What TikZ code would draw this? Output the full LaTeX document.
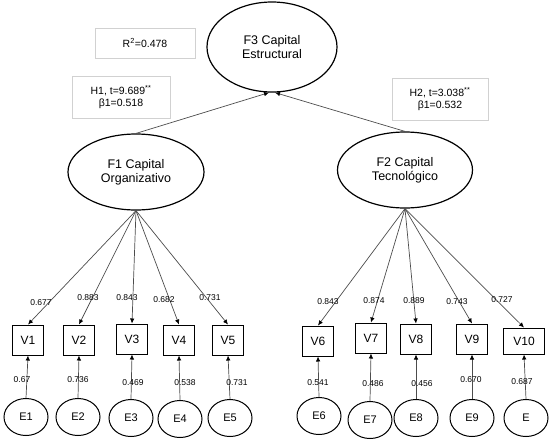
\documentclass[tikz,border=0pt]{standalone}
\usepackage{fontspec}
\setmainfont{Liberation Sans}
\usetikzlibrary{arrows.meta, positioning, shapes.geometric}
\definecolor{cline}{gray}{0.3}
\definecolor{cframe}{gray}{0.82}

\begin{document}
\begin{tikzpicture}[
    x=1pt, y=-1pt,
    factor/.style={draw, ellipse, line width=1.2pt, minimum width=#1, minimum height=76pt, align=center, font=\fontsize{12.5}{14}\selectfont, inner sep=0pt},
    factor/.default=136pt,
    item/.style={draw, line width=1pt, minimum width=31pt, minimum height=30pt, font=\fontsize{12}{14}\selectfont, inner sep=0pt},
    err/.style={draw, ellipse, line width=1pt, minimum width=44pt, minimum height=37pt, font=\fontsize{11}{13}\selectfont, inner sep=0pt},
    note/.style={draw=cframe, line width=0.8pt, align=center, font=\fontsize{10.5}{12.5}\selectfont, inner sep=0pt},
    val/.style={font=\fontsize{8.5}{10}\selectfont, inner sep=0.5pt},
    arrow/.style={-{Latex[length=5pt, width=4.5pt, black]}, cline, line width=0.7pt}
]
\useasboundingbox (0,0) rectangle (554,445);

% latent factors
\node[factor=130pt, minimum height=90pt] (F3) at (272,47) {F3 Capital\\Estructural};
\node[factor] (F1) at (136,172) {F1 Capital\\Organizativo};
\node[factor=135pt] (F2) at (405,170) {F2 Capital\\Tecnológico};

% notes
\node[note, minimum width=100pt, minimum height=30pt] (r2) at (145,43) {R\textsuperscript{2}=0.478};
\node[note, minimum width=98pt, minimum height=42pt] (h1) at (121,97) {H1, t=9.689\textsuperscript{**}\\β1=0.518};
\node[note, minimum width=96pt, minimum height=42pt] (h2) at (440,99) {H2, t=3.038\textsuperscript{**}\\β1=0.532};

% indicators
\node[item] (V1) at (28,340) {V1};
\node[item] (V2) at (79,340) {V2};
\node[item] (V3) at (132,339) {V3};
\node[item] (V4) at (179,340) {V4};
\node[item] (V5) at (228,340) {V5};
\node[item] (V6) at (318,341) {V6};
\node[item] (V7) at (371,338) {V7};
\node[item] (V8) at (416,339) {V8};
\node[item] (V9) at (472,339) {V9};
\node[item, minimum width=41pt, minimum height=26pt] (V10) at (524,341) {V10};

% errors
\node[err] (E1) at (26,417) {E1};
\node[err] (E2) at (78,417) {E2};
\node[err] (E3) at (131,418) {E3};
\node[err] (E4) at (180,419) {E4};
\node[err] (E5) at (230,418) {E5};
\node[err] (E6) at (319,416) {E6};
\node[err] (E7) at (370,420) {E7};
\node[err] (E8) at (416,418) {E8};
\node[err] (E9) at (472,418) {E9};
\node[err] (E10) at (526,418) {E};

% structural paths
\draw[arrow] (F1.north) -- ([xshift=-3pt]F3.south);
\draw[arrow] (F2.north) -- ([xshift=3pt]F3.south);

% loadings
\foreach \v in {V1,V2,V3,V4,V5}
    \draw[arrow] (F1.south) -- (\v.north);
\foreach \v in {V6,V7,V8,V9,V10}
    \draw[arrow] (F2.south) -- (\v.north);
\foreach \i in {1,...,10}
    \draw[arrow] (E\i.north) -- (V\i.south);

% values
\node[val] (l1) at (41,303) {0.677};
\node[val] (l2) at (88,298) {0.883};
\node[val] (l3) at (127,298) {0.843};
\node[val] (l4) at (164,300) {0.682};
\node[val] (l5) at (210,298) {0.731};
\node[val] (l6) at (328,302) {0.843};
\node[val] (l7) at (374,301) {0.874};
\node[val] (l8) at (414,301) {0.889};
\node[val] (l9) at (457,302) {0.743};
\node[val] (l10) at (502,300) {0.727};
\node[val] (e1) at (22,380) {0.67};
\node[val] (e2) at (78,380) {0.736};
\node[val] (e3) at (133,383) {0.469};
\node[val] (e4) at (185,383) {0.538};
\node[val] (e5) at (237,383) {0.731};
\node[val] (e6) at (318,383) {0.541};
\node[val] (e7) at (373,384) {0.486};
\node[val] (e8) at (422,384) {0.456};
\node[val] (e9) at (471,380) {0.670};
\node[val] (e10) at (522,382) {0.687};

\end{tikzpicture}
\end{document}
